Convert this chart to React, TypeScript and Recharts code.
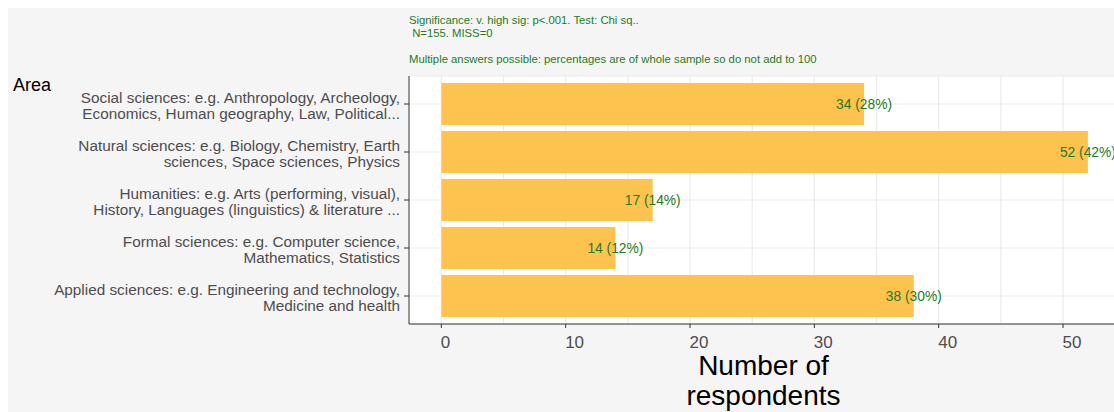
import React from 'react';
import { BarChart, Bar, XAxis, YAxis, CartesianGrid, LabelList } from 'recharts';

// Field of study, top to bottom; "\n" marks the wrap point of the axis label
const areas = [
  'Social sciences: e.g. Anthropology, Archeology,\nEconomics, Human geography, Law, Political...',
  'Natural sciences: e.g. Biology, Chemistry, Earth\nsciences, Space sciences, Physics',
  'Humanities: e.g. Arts (performing, visual),\nHistory, Languages (linguistics) & literature ...',
  'Formal sciences: e.g. Computer science,\nMathematics, Statistics',
  'Applied sciences: e.g. Engineering and technology,\nMedicine and health',
];
const respondents = [34, 52, 17, 14, 38];
const shares = ['28%', '42%', '14%', '12%', '30%'];

const xTicks = [0, 10, 20, 30, 40, 50];
const gridValues = [0, 5, 10, 15, 20, 25, 30, 35, 40, 45, 50];

const notes = [
  'Significance: v. high sig: p<.001. Test: Chi sq..',
  ' N=155. MISS=0',
  'Multiple answers possible: percentages are of whole sample so do not add to 100',
];

const data = areas.map((area, i) => ({
  area,
  count: respondents[i],
  label: `${respondents[i]} (${shares[i]})`,
}));

const FONT = '"Liberation Sans", Arial, sans-serif';
const GREEN = '#1f7a1f';

const AreaTick = ({ x, y, payload }: { x?: number; y?: number; payload?: { value: string } }) => {
  const lines = String(payload?.value ?? '').split('\n');
  return (
    <text x={x} y={y} textAnchor="end" fill="#4d4d4d" fontSize={15.3} fontFamily={FONT}>
      {lines.map((line, i) => (
        <tspan key={i} x={x} y={(y ?? 0) - 1.5 + i * 16}>
          {line}
        </tspan>
      ))}
    </text>
  );
};

// count labels sit just right of each tick mark
const CountTick = ({ x, y, payload }: { x?: number; y?: number; payload?: { value: number } }) => (
  <text x={(x ?? 0) - 0.5} y={(y ?? 0) + 12} textAnchor="start" fill="#4d4d4d" fontSize={17} fontFamily={FONT}>
    {payload?.value}
  </text>
);

const ValueLabel = (props: any) => {
  const { x, y, width, height, value } = props;
  return (
    <text
      x={x + width}
      y={y + height / 2}
      textAnchor="middle"
      dominantBaseline="central"
      fill={GREEN}
      fontSize={13.8}
      fontFamily={FONT}
    >
      {value}
    </text>
  );
};

const AxisTitle = (props: any) => {
  const vb = props.viewBox || {};
  const cx = (vb.x ?? 0) + (vb.width ?? 0) / 2 + 2;
  const top = vb.y ?? 0;
  return (
    <text textAnchor="middle" fill="#000" fontSize={28} fontFamily={FONT}>
      <tspan x={cx} y={top + 51}>Number of</tspan>
      <tspan x={cx} y={top + 81}>respondents</tspan>
    </text>
  );
};

export default function App() {
  return (
    <div
      style={{
        position: 'fixed',
        left: 8,
        top: 8,
        width: 1106,
        height: 404,
        background: '#f5f5f5',
        fontFamily: FONT,
        overflow: 'hidden',
      }}
    >
      <div style={{ position: 'absolute', left: 5, top: 67, fontSize: 18, color: '#000' }}>Area</div>
      <div
        style={{
          position: 'absolute',
          left: 401,
          top: 6,
          fontSize: 11.3,
          color: GREEN,
          whiteSpace: 'pre',
          lineHeight: '13px',
        }}
      >
        <div>{notes[0]}</div>
        <div>{notes[1]}</div>
        <div style={{ marginTop: 13 }}>{notes[2]}</div>
      </div>
      <BarChart
        width={1106}
        height={404}
        data={data}
        layout="vertical"
        margin={{ top: 68, right: 0, bottom: 0, left: 0 }}
      >
        <CartesianGrid
          fill="#ffffff"
          stroke="#ebebeb"
          strokeWidth={1.2}
          verticalValues={gridValues}
        />
        <XAxis
          type="number"
          domain={[-2.6, 54.1]}
          allowDataOverflow
          ticks={xTicks}
          interval={0}
          height={88}
          tickSize={4}
          tickMargin={8}
          axisLine={{ stroke: '#333' }}
          tickLine={{ stroke: '#333' }}
          tick={<CountTick />}
          label={<AxisTitle />}
        />
        <XAxis
          xAxisId="top"
          orientation="top"
          type="number"
          domain={[-2.6, 54.1]}
          allowDataOverflow
          height={0}
          tick={false}
          tickLine={false}
          axisLine={{ stroke: '#666' }}
        />
        <YAxis
          type="category"
          dataKey="area"
          width={401}
          interval={0}
          tickSize={5}
          tickMargin={4}
          padding={{ top: 4, bottom: 4 }}
          axisLine={{ stroke: '#333' }}
          tickLine={{ stroke: '#333' }}
          tick={<AreaTick />}
        />
        <Bar dataKey="count" fill="#fec34f" barSize={42} isAnimationActive={false}>
          <LabelList dataKey="label" content={<ValueLabel />} />
        </Bar>
      </BarChart>
    </div>
  );
}
